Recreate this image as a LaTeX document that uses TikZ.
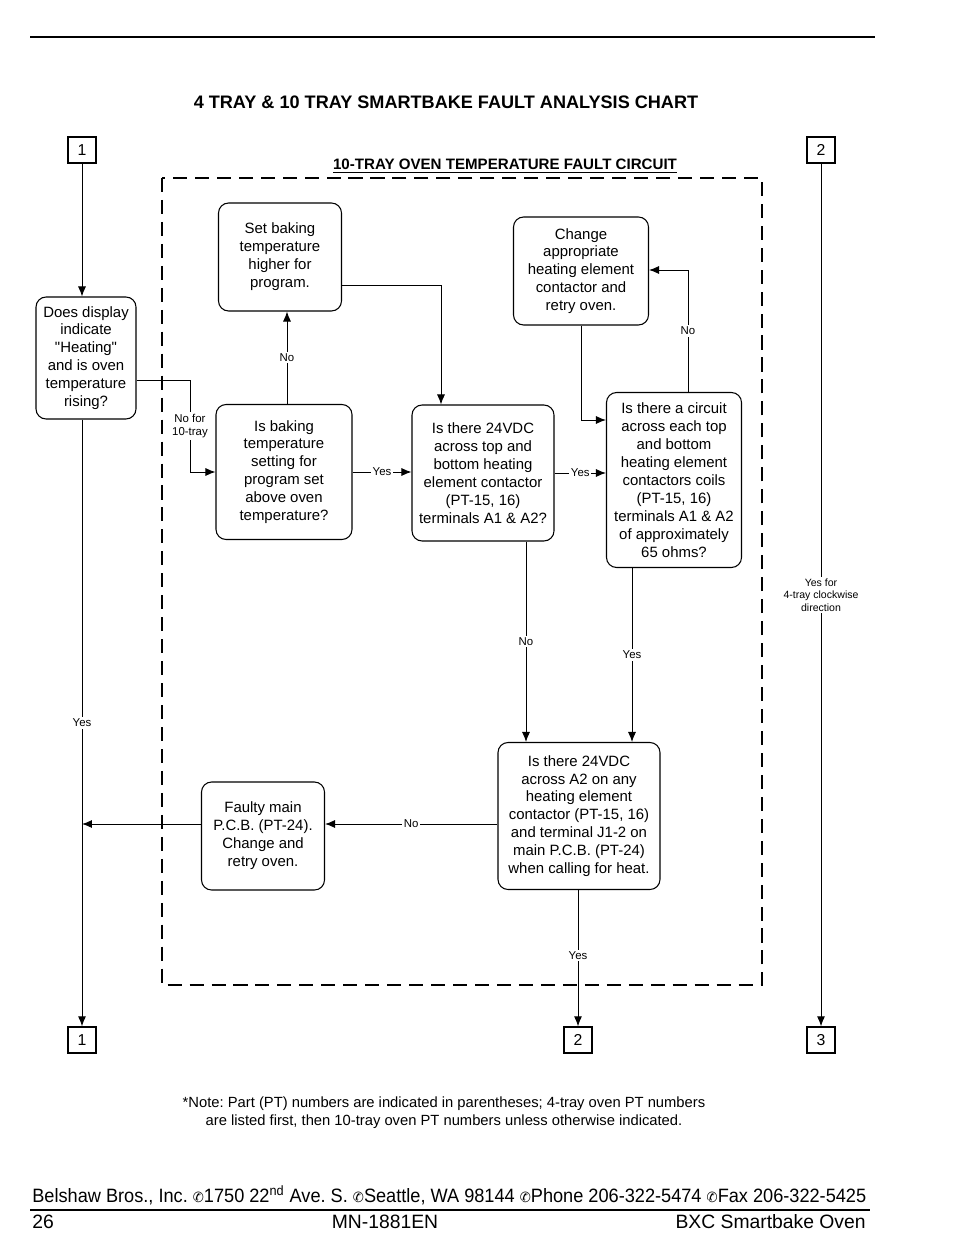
\documentclass[tikz,border=0pt]{standalone}
\usepackage{fontspec}
\setmainfont{Liberation Sans}
\newfontfamily\dingfont{DejaVu Sans}
\usetikzlibrary{positioning, arrows.meta}
\newcommand{\phn}{{\dingfont\fontsize{8}{9}\selectfont ✆}}
\frenchspacing

\begin{document}
\begin{tikzpicture}[
    % GLOBAL CFG (coordinates in pixels of the page)
    x=0.02cm, y=-0.02cm,
    font=\fontsize{8.5}{10.2}\selectfont,
    >={Latex[length=2mm, width=1.6mm]},
    % Styles
    qbox/.style={% For question and action boxes
        rectangle,
        rounded corners=2mm,
        draw,
        line width=0.6pt,
        inner sep=1pt,
        align=center,
    },
    conn/.style={% For off-page connectors
        rectangle,
        draw,
        line width=0.8pt,
        minimum width=0.56cm,
        minimum height=0.52cm,
        inner sep=0pt,
        font=\fontsize{9}{10}\selectfont,
    },
    lbl/.style={% For Yes/No labels on the arrows
        fill=white,
        inner sep=1pt,
        align=center,
        font=\fontsize{6.5}{7.6}\selectfont,
    },
    frame/.style={% For the dashed circuit border
        line width=1.2pt,
        dash pattern=on 8pt off 4.5pt,
    },
    link/.style={% For connectors
        line width=0.5pt,
    },
    foot/.style={% For the page footer
        inner sep=0pt,
        font=\fontsize{11}{12}\selectfont,
    },
    ]

    \useasboundingbox (0,0) rectangle (954,1260);

    % Header
    \draw [line width=0.6pt] (30,37) -- (875,37);
    \node [font=\fontsize{10.3}{12}\bfseries\selectfont] (title) at (446,102)
        {4 TRAY \& 10 TRAY SMARTBAKE FAULT ANALYSIS CHART};

    % Dashed frame with its title
    \draw [frame] (162,178) rectangle (762,985);
    \node [font=\fontsize{8.6}{9}\bfseries\selectfont] (frametitle) at (505,166)
        {\underline{10-TRAY OVEN TEMPERATURE FAULT CIRCUIT}};

    % Off-page connectors
    \node [conn] (c1top) at (82,150) {1};
    \node [conn] (c2top) at (821,150) {2};
    \node [conn] (c1bot) at (82,1040) {1};
    \node [conn] (c2bot) at (578,1040) {2};
    \node [conn] (c3bot) at (821,1040) {3};

    % Boxes
    \node [qbox, minimum width=2.0cm, minimum height=2.44cm] (disp) at (86,358)
        {Does display\\ indicate\\ \textquotedbl Heating\textquotedbl\\ and is oven\\ temperature\\ rising?};
    \node [qbox, minimum width=2.46cm, minimum height=2.16cm] (setb) at (280,257)
        {Set baking\\ temperature\\ higher for\\ program.};
    \node [qbox, minimum width=2.72cm, minimum height=2.7cm] (isbak) at (284,472)
        {Is baking\\ temperature\\ setting for\\ program set\\ above oven\\ temperature?};
    \node [qbox, minimum width=2.84cm, minimum height=2.72cm] (vtop) at (483,473)
        {Is there 24VDC\\ across top and\\ bottom heating\\ element contactor\\ (PT-15, 16)\\ terminals A1 \& A2?};
    \node [qbox, minimum width=2.7cm, minimum height=2.16cm] (chg) at (581,271)
        {Change\\ appropriate\\ heating element\\ contactor and\\ retry oven.};
    \node [qbox, minimum width=2.7cm, minimum height=3.5cm] (circ) at (674,480)
        {Is there a circuit\\ across each top\\ and bottom\\ heating element\\ contactors coils\\ (PT-15, 16)\\ terminals A1 \& A2\\ of approximately\\ 65 ohms?};
    \node [qbox, minimum width=3.24cm, minimum height=2.94cm] (va2) at (579,816)
        {Is there 24VDC\\ across A2 on any\\ heating element\\ contactor (PT-15, 16)\\ and terminal J1-2 on\\ main P.C.B. (PT-24)\\ when calling for heat.};
    \node [qbox, minimum width=2.46cm, minimum height=2.16cm] (fault) at (263,836)
        {Faulty main\\ P.C.B. (PT-24).\\ Change and\\ retry oven.};

    % Turning points
    \coordinate (j1) at (190,380);
    \coordinate (j2) at (441,285);
    \coordinate (j3) at (581,420);
    \coordinate (j4) at (688,270);
    \coordinate (j5) at (82,824);

    % Connect all
    \draw [->, link] (c1top) -- (c1top |- disp.north);
    \draw [->, link] (disp.east |- j1) -- (j1) -- node [lbl] {No for\\ 10-tray} (j1 |- isbak.west) -- (isbak.west);
    \draw [->, link] (isbak.north -| 287,0) -- node [lbl] {No} (setb.south -| 287,0);
    \draw [->, link] (setb.east |- j2) -- (j2) -- (j2 |- vtop.north);
    \draw [->, link] (isbak.east) -- node [lbl] {Yes} (isbak.east -| vtop.west);
    \draw [->, link] (vtop.east) -- node [lbl] {Yes} (vtop.east -| circ.west);
    \draw [->, link] (chg.south) -- (j3) -- (j3 -| circ.west);
    \draw [->, link] (circ.north -| j4) -- node [lbl] {No} (j4) -- (j4 -| chg.east);
    \draw [->, link] (vtop.south -| 526,0) -- node [lbl] {No} (va2.north -| 526,0);
    \draw [->, link] (circ.south -| 632,0) -- node [lbl] {Yes} (va2.north -| 632,0);
    \draw [->, link] (va2.west |- j5) -- node [lbl] {No} (fault.east |- j5);
    \draw [->, link] (fault.west |- j5) -- (j5);
    \draw [->, link] (c1bot |- disp.south) -- node [lbl] {Yes} (c1bot.north);
    \draw [->, link] (va2.south -| c2bot) -- node [lbl, pos=0.48] {Yes} (c2bot.north);
    \draw [->, link] (c2top.south) -- node [lbl, font=\fontsize{6}{7.2}\selectfont] {Yes for\\ 4-tray clockwise\\ direction} (c3bot.north);

    % Note
    \node [align=center, font=\fontsize{8.4}{10.2}\selectfont] (note) at (444,1113)
        {*Note: Part (PT) numbers are indicated in parentheses; 4-tray oven PT numbers\\ are listed first, then 10-tray oven PT numbers unless otherwise indicated.};

    % Footer
    \node [foot, anchor=west] (addr) at (32,1195)
        {\scalebox{0.94}[1]{Belshaw Bros., Inc. \phn1750 22\textsuperscript{nd} Ave. S. \phn Seattle, WA 98144 \phn Phone 206-322-5474 \phn Fax 206-322-5425}};
    \draw [line width=1.2pt] (30,1210) -- (870,1210);
    \node [foot, anchor=west] (page) at (32,1222) {26};
    \node [foot] (manual) at (385,1222) {MN-1881EN};
    \node [foot, anchor=east] (model) at (866,1222) {BXC Smartbake Oven};

\end{tikzpicture}
\end{document}
